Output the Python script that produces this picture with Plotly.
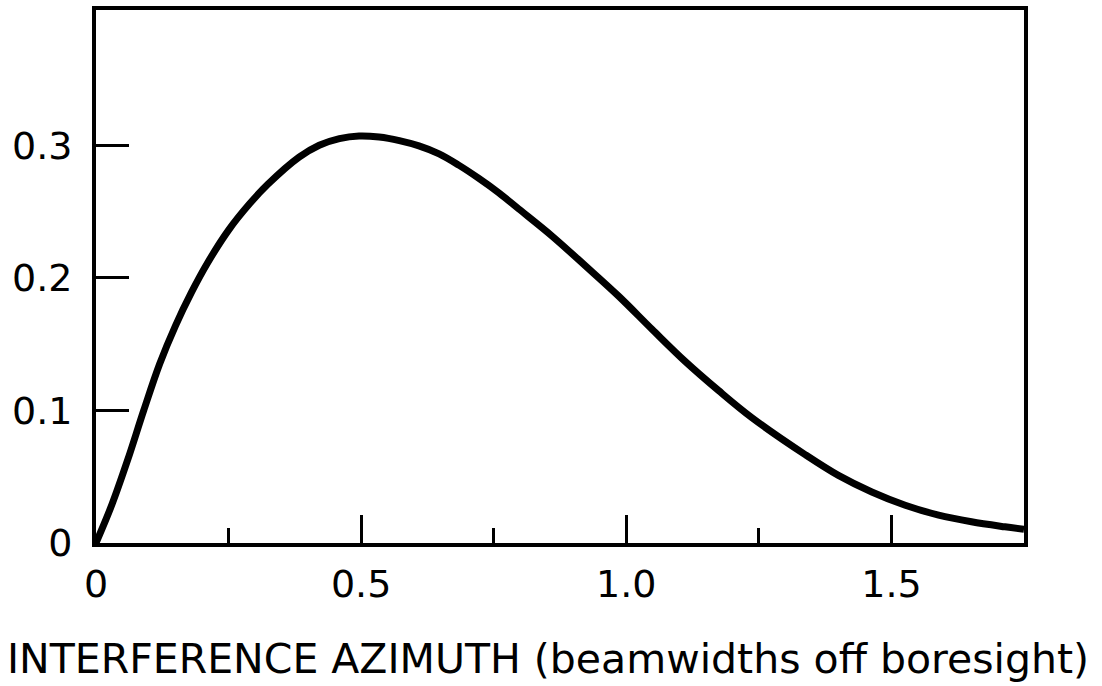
import plotly.graph_objects as go

# Interference azimuth (beamwidths off boresight) and the corresponding curve value
azimuth = [0.0, 0.030, 0.060, 0.090, 0.120, 0.150, 0.180, 0.210, 0.250,
           0.290, 0.324, 0.383, 0.421, 0.459, 0.496, 0.534, 0.572, 0.609,
           0.647, 0.684, 0.722, 0.760, 0.797, 0.860, 0.923, 0.986, 1.049,
           1.111, 1.174, 1.237, 1.338, 1.400, 1.463, 1.526, 1.589, 1.651,
           1.714, 1.750]
value = [0.0, 0.029, 0.063, 0.100, 0.135, 0.164, 0.189, 0.211, 0.236,
         0.256, 0.2705, 0.291, 0.300, 0.305, 0.307, 0.3062, 0.3035, 0.2995,
         0.2935, 0.285, 0.275, 0.264, 0.252, 0.2315, 0.209, 0.186, 0.161,
         0.137, 0.115, 0.0945, 0.0665, 0.051, 0.0385, 0.0285, 0.021, 0.016,
         0.0122, 0.0103]

x_tickvals = [0, 0.5, 1.0, 1.5]
x_ticktext = ["0", "0.5", "1.0", "1.5"]
y_tickvals = [0, 0.1, 0.2, 0.3]
y_ticktext = ["0", "0.1", "0.2", "0.3"]
x_title = "INTERFERENCE AZIMUTH (beamwidths off boresight)"

FONT = "DejaVu Sans"

fig = go.Figure()
fig.add_trace(go.Scatter(
    x=azimuth, y=value, mode="lines",
    line=dict(color="black", width=7, shape="spline", smoothing=1.0),
    hoverinfo="skip", showlegend=False,
))

fig.update_layout(
    width=1102, height=686,
    margin=dict(l=96, r=78, t=6, b=143),
    paper_bgcolor="white", plot_bgcolor="white",
    font=dict(family=FONT, color="black", size=38),
    xaxis=dict(
        range=[0, 1.75], showgrid=False, zeroline=False,
        showline=True, linecolor="black", linewidth=4, mirror=True,
        tickmode="array", tickvals=x_tickvals, ticktext=x_ticktext,
        ticks="inside", ticklen=28, tickwidth=3, tickcolor="black",
        ticklabelstandoff=4,
        minor=dict(ticks="inside", ticklen=15, tickwidth=3, tickcolor="black",
                   tickmode="array", tickvals=[0.25, 0.75, 1.25]),
        tickfont=dict(family=FONT, size=38, color="black"),
    ),
    yaxis=dict(
        range=[0, 0.402], showgrid=False, zeroline=False,
        showline=True, linecolor="black", linewidth=4, mirror=True,
        tickmode="array", tickvals=y_tickvals, ticktext=y_ticktext,
        ticks="inside", ticklen=33, tickwidth=3, tickcolor="black",
        ticklabelstandoff=12,
        tickfont=dict(family=FONT, size=38, color="black"),
    ),
    annotations=[dict(
        text=x_title, xref="paper", yref="paper",
        x=0.487, y=-0.218, xanchor="center", yanchor="middle",
        showarrow=False, font=dict(family=FONT, size=41, color="black"),
    )],
)

fig.write_html("out.html")
